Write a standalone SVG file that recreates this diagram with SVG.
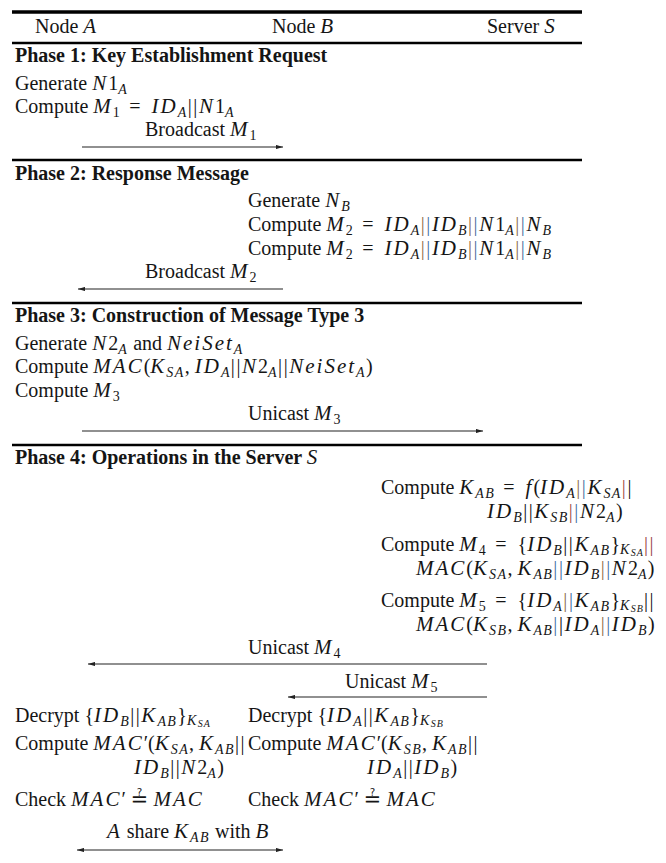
<svg xmlns="http://www.w3.org/2000/svg" width="666" height="863" viewBox="0 0 666 863">
<style>
text{font-family:"Liberation Serif","Times New Roman",serif;font-size:20px;fill:#151515}
.h{font-weight:bold}
.m{font-style:italic;font-size:21px;letter-spacing:2px}
.s{font-size:14px;letter-spacing:1.4px}
.ss{font-size:10px;letter-spacing:1px}
.o{letter-spacing:3px}
.p{letter-spacing:1.6px}
.q{font-family:"DejaVu Serif","DejaVu Sans",serif;font-size:21px}
.bo{letter-spacing:1.6px;fill:#8a6a4a}
.bb{letter-spacing:1.6px;fill:#45709f}
.br{letter-spacing:1.6px;fill:#9a4a45}
.rule{stroke:#000;fill:none}
.arr{stroke:#222;stroke-width:1.2;fill:none}
</style>
<defs>
<marker id="ah" viewBox="0 0 10 6" refX="10" refY="3" markerWidth="7" markerHeight="4.4" orient="auto-start-reverse" markerUnits="userSpaceOnUse"><path d="M0,0 L10,3 L0,6 z" fill="#222"/></marker>
</defs>

<g id="rules">
<line class="rule" x1="12" y1="12" x2="582" y2="12" stroke-width="3.5"/>
<line class="rule" x1="12" y1="43" x2="582" y2="43" stroke-width="2.5"/>
<line class="rule" x1="12" y1="160" x2="582" y2="160" stroke-width="2.5"/>
<line class="rule" x1="12" y1="303" x2="582" y2="303" stroke-width="2.5"/>
<line class="rule" x1="12" y1="445" x2="582" y2="445" stroke-width="2.5"/>
</g>

<g id="nodeA"><text x="35" y="33">Node <tspan class="m">A</tspan></text></g>
<g id="nodeB"><text x="272" y="33">Node <tspan class="m">B</tspan></text></g>
<g id="serverS"><text x="487" y="33">Server <tspan class="m">S</tspan></text></g>

<g id="phase1">
<text class="h" x="15" y="62">Phase 1: Key Establishment Request</text>
<text x="15" y="90">Generate <tspan class="m">N</tspan>1<tspan class="m s" dy="4">A</tspan></text>
<text x="15" y="113">Compute <tspan class="m">M</tspan><tspan class="s" dy="4">1</tspan><tspan class="o" dy="-4"> = </tspan><tspan class="m">ID</tspan><tspan class="m s" dy="4">A</tspan><tspan class="p" dy="-4">||</tspan><tspan class="m">N</tspan>1<tspan class="m s" dy="4">A</tspan></text>
<text x="145" y="136">Broadcast <tspan class="m">M</tspan><tspan class="s" dy="4">1</tspan></text>
</g>

<g id="phase2">
<text class="h" x="15" y="180">Phase 2: Response Message</text>
<text x="248" y="207">Generate <tspan class="m">N</tspan><tspan class="m s" dy="4">B</tspan></text>
<text x="248" y="231">Compute <tspan class="m">M</tspan><tspan class="s" dy="4">2</tspan><tspan class="o" dy="-4"> = </tspan><tspan class="m">ID</tspan><tspan class="m s" dy="4">A</tspan><tspan class="bo" dy="-4">|</tspan><tspan class="bb">|</tspan><tspan class="m">ID</tspan><tspan class="m s" dy="4">B</tspan><tspan class="bo" dy="-4">|</tspan><tspan class="bb">|</tspan><tspan class="m">N</tspan>1<tspan class="m s" dy="4">A</tspan><tspan class="bo" dy="-4">|</tspan><tspan class="bb">|</tspan><tspan class="m">N</tspan><tspan class="m s" dy="4">B</tspan></text>
<text x="248" y="255">Compute <tspan class="m">M</tspan><tspan class="s" dy="4">2</tspan><tspan class="o" dy="-4"> = </tspan><tspan class="m">ID</tspan><tspan class="m s" dy="4">A</tspan><tspan class="bo" dy="-4">|</tspan><tspan class="bb">|</tspan><tspan class="m">ID</tspan><tspan class="m s" dy="4">B</tspan><tspan class="bo" dy="-4">|</tspan><tspan class="bb">|</tspan><tspan class="m">N</tspan>1<tspan class="m s" dy="4">A</tspan><tspan class="bo" dy="-4">|</tspan><tspan class="bb">|</tspan><tspan class="m">N</tspan><tspan class="m s" dy="4">B</tspan></text>
<text x="145" y="278">Broadcast <tspan class="m">M</tspan><tspan class="s" dy="4">2</tspan></text>
</g>

<g id="phase3">
<text class="h" x="15" y="322">Phase 3: Construction of Message Type 3</text>
<text x="15" y="350">Generate <tspan class="m">N</tspan>2<tspan class="m s" dy="4">A</tspan><tspan dy="-4"> and </tspan><tspan class="m">NeiSet</tspan><tspan class="m s" dy="4">A</tspan></text>
<text x="15" y="373">Compute <tspan class="m">MAC</tspan>(<tspan class="m">K</tspan><tspan class="m s" dy="4">SA</tspan><tspan dy="-4">, </tspan><tspan class="m">ID</tspan><tspan class="m s" dy="4">A</tspan><tspan class="p" dy="-4">||</tspan><tspan class="m">N</tspan>2<tspan class="m s" dy="4">A</tspan><tspan class="p" dy="-4">||</tspan><tspan class="m">NeiSet</tspan><tspan class="m s" dy="4">A</tspan><tspan dy="-4">)</tspan></text>
<text x="15" y="397">Compute <tspan class="m">M</tspan><tspan class="s" dy="4">3</tspan></text>
<text x="248" y="420">Unicast <tspan class="m">M</tspan><tspan class="s" dy="4">3</tspan></text>
</g>

<g id="phase4">
<text class="h" x="15" y="464">Phase 4: Operations in the Server <tspan class="m" font-weight="normal">S</tspan></text>
<text x="381" y="494">Compute <tspan class="m">K</tspan><tspan class="m s" dy="4">AB</tspan><tspan class="o" dy="-4"> = </tspan><tspan class="m">f</tspan>(<tspan class="m">ID</tspan><tspan class="m s" dy="4">A</tspan><tspan class="bo" dy="-4">|</tspan><tspan class="bb">|</tspan><tspan class="m">K</tspan><tspan class="m s" dy="4">SA</tspan><tspan class="br" dy="-4">|</tspan><tspan class="p">|</tspan></text>
<text x="487" y="518"><tspan class="m">ID</tspan><tspan class="m s" dy="4">B</tspan><tspan class="p" dy="-4">||</tspan><tspan class="m">K</tspan><tspan class="m s" dy="4">SB</tspan><tspan class="br" dy="-4">|</tspan><tspan class="bb">|</tspan><tspan class="m">N</tspan>2<tspan class="m s" dy="4">A</tspan><tspan dy="-4">)</tspan></text>
<text x="381" y="551">Compute <tspan class="m">M</tspan><tspan class="s" dy="4">4</tspan><tspan class="o" dy="-4"> = </tspan>{<tspan class="m">ID</tspan><tspan class="m s" dy="4">B</tspan><tspan class="p" dy="-4">||</tspan><tspan class="m">K</tspan><tspan class="m s" dy="4">AB</tspan><tspan dy="-4">}</tspan><tspan class="m s" dy="3">K</tspan><tspan class="m ss" dy="2">SA</tspan><tspan class="br" dy="-5">|</tspan><tspan class="br">|</tspan></text>
<text x="416" y="575"><tspan class="m">MAC</tspan>(<tspan class="m">K</tspan><tspan class="m s" dy="4">SA</tspan><tspan dy="-4">, </tspan><tspan class="m">K</tspan><tspan class="m s" dy="4">AB</tspan><tspan class="bb" dy="-4">|</tspan><tspan class="bb">|</tspan><tspan class="m">ID</tspan><tspan class="m s" dy="4">B</tspan><tspan class="bo" dy="-4">|</tspan><tspan class="bb">|</tspan><tspan class="m">N</tspan>2<tspan class="m s" dy="4">A</tspan><tspan dy="-4">)</tspan></text>
<text x="381" y="607">Compute <tspan class="m">M</tspan><tspan class="s" dy="4">5</tspan><tspan class="o" dy="-4"> = </tspan>{<tspan class="m">ID</tspan><tspan class="m s" dy="4">A</tspan><tspan class="bo" dy="-4">|</tspan><tspan class="bb">|</tspan><tspan class="m">K</tspan><tspan class="m s" dy="4">AB</tspan><tspan dy="-4">}</tspan><tspan class="m s" dy="3">K</tspan><tspan class="m ss" dy="2">SB</tspan><tspan class="p" dy="-5">||</tspan></text>
<text x="416" y="631"><tspan class="m">MAC</tspan>(<tspan class="m">K</tspan><tspan class="m s" dy="4">SB</tspan><tspan dy="-4">, </tspan><tspan class="m">K</tspan><tspan class="m s" dy="4">AB</tspan><tspan class="bb" dy="-4">|</tspan><tspan class="p">|</tspan><tspan class="m">ID</tspan><tspan class="m s" dy="4">A</tspan><tspan class="bo" dy="-4">|</tspan><tspan class="bb">|</tspan><tspan class="m">ID</tspan><tspan class="m s" dy="4">B</tspan><tspan dy="-4">)</tspan></text>
<text x="248" y="654">Unicast <tspan class="m">M</tspan><tspan class="s" dy="4">4</tspan></text>
<text x="345" y="688">Unicast <tspan class="m">M</tspan><tspan class="s" dy="4">5</tspan></text>
<text x="15" y="722">Decrypt {<tspan class="m">ID</tspan><tspan class="m s" dy="4">B</tspan><tspan class="p" dy="-4">||</tspan><tspan class="m">K</tspan><tspan class="m s" dy="4">AB</tspan><tspan dy="-4">}</tspan><tspan class="m s" dy="3">K</tspan><tspan class="m ss" dy="2">SA</tspan></text>
<text x="248" y="722">Decrypt {<tspan class="m">ID</tspan><tspan class="m s" dy="4">A</tspan><tspan class="p" dy="-4">||</tspan><tspan class="m">K</tspan><tspan class="m s" dy="4">AB</tspan><tspan dy="-4">}</tspan><tspan class="m s" dy="3">K</tspan><tspan class="m ss" dy="2">SB</tspan></text>
<text x="15" y="750">Compute <tspan class="m">MAC</tspan>′(<tspan class="m">K</tspan><tspan class="m s" dy="4">SA</tspan><tspan dy="-4">, </tspan><tspan class="m">K</tspan><tspan class="m s" dy="4">AB</tspan><tspan class="p" dy="-4">||</tspan></text>
<text x="248" y="750">Compute <tspan class="m">MAC</tspan>′(<tspan class="m">K</tspan><tspan class="m s" dy="4">SB</tspan><tspan dy="-4">, </tspan><tspan class="m">K</tspan><tspan class="m s" dy="4">AB</tspan><tspan class="p" dy="-4">||</tspan></text>
<text x="134" y="774"><tspan class="m">ID</tspan><tspan class="m s" dy="4">B</tspan><tspan class="p" dy="-4">||</tspan><tspan class="m">N</tspan>2<tspan class="m s" dy="4">A</tspan><tspan dy="-4">)</tspan></text>
<text x="367" y="774"><tspan class="m">ID</tspan><tspan class="m s" dy="4">A</tspan><tspan class="p" dy="-4">||</tspan><tspan class="m">ID</tspan><tspan class="m s" dy="4">B</tspan><tspan dy="-4">)</tspan></text>
<text x="15" y="806">Check <tspan class="m">MAC</tspan>′ <tspan class="q">≟</tspan> <tspan class="m">MAC</tspan></text>
<text x="248" y="806">Check <tspan class="m">MAC</tspan>′ <tspan class="q">≟</tspan> <tspan class="m">MAC</tspan></text>
<text x="107" y="838"><tspan class="m">A</tspan> share <tspan class="m">K</tspan><tspan class="m s" dy="4">AB</tspan><tspan dy="-4"> with </tspan><tspan class="m">B</tspan></text>
</g>

<g id="connectors">
<line class="arr" x1="82" y1="147" x2="283" y2="147" marker-end="url(#ah)"/>
<line class="arr" x1="283" y1="289" x2="78" y2="289" marker-end="url(#ah)"/>
<line class="arr" x1="82" y1="431" x2="483" y2="431" marker-end="url(#ah)"/>
<line class="arr" x1="487" y1="664" x2="88" y2="664" marker-end="url(#ah)"/>
<line class="arr" x1="487" y1="697" x2="288" y2="697" marker-end="url(#ah)"/>
<line class="arr" x1="77" y1="850" x2="283" y2="850" marker-start="url(#ah)" marker-end="url(#ah)"/>
</g>
</svg>
